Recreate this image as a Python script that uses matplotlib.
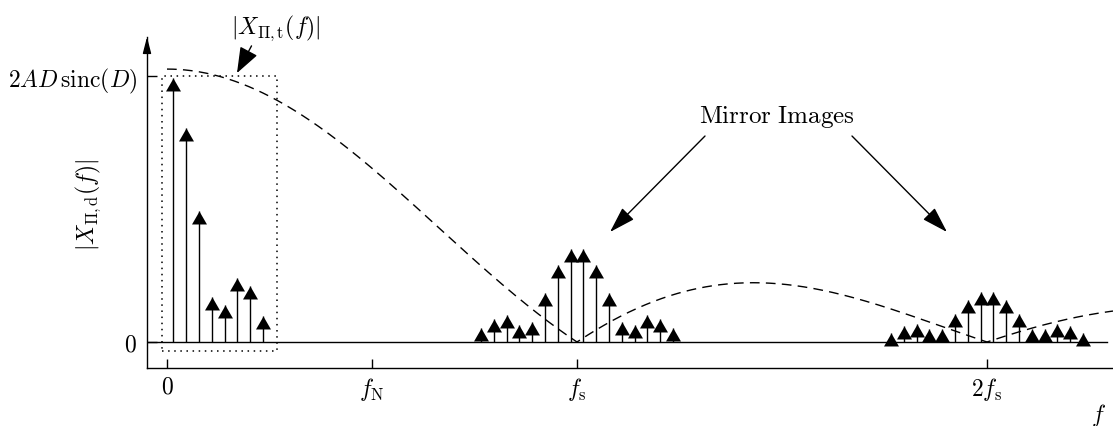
import numpy as np
import matplotlib
matplotlib.use("Agg")
import matplotlib.pyplot as plt
from matplotlib.patches import Rectangle

plt.rcParams["mathtext.fontset"] = "cm"
plt.rcParams["font.family"] = "serif"
plt.rcParams["font.serif"] = ["cmr10", "DejaVu Serif"]
plt.rcParams["axes.unicode_minus"] = False

# Frequencies are in units of fs; magnitudes in units of 2AD sinc(D)
bin_width = 1.0 / 32.0
bin_index = [0.5, 1.5, 2.5, 3.5, 4.5, 5.5, 6.5, 7.5]

baseband = [0.992, 0.803, 0.494, 0.170, 0.140, 0.242, 0.211, 0.097]
image_fs = [0.348, 0.288, 0.186, 0.075, 0.065, 0.100, 0.088, 0.053]
image_2fs = [0.189, 0.159, 0.107, 0.050, 0.048, 0.067, 0.060, 0.035]

envelope_peak = 1.026
envelope_null = 1.0  # first zero of the continuous-time spectrum (at fs)

xtick_pos = [0.0, 0.5, 1.0, 2.0]
xtick_lab = [r"$0$", r"$f_{\mathrm{N}}$", r"$f_{\mathrm{s}}$", r"$2f_{\mathrm{s}}$"]
ytick_pos = [0.0, 1.0]
ytick_lab = [r"$0$", r"$2AD\,\mathrm{sinc}(D)$"]

W, H = 1113, 427
fig = plt.figure(figsize=(W / 100, H / 100), dpi=100)
ax = fig.add_axes([147 / W, 58 / H, (W - 147) / W, (369 - 38) / H])
ax.set_xlim(-0.04878, 2.3073)
ax.set_ylim(-0.0977, 1.1466)

for s in ("top", "right"):
    ax.spines[s].set_visible(False)
for s in ("left", "bottom"):
    ax.spines[s].set_linewidth(1.0)

FS = 17
ax.set_xticks(xtick_pos)
ax.set_xticklabels(xtick_lab, fontsize=FS)
ax.set_yticks(ytick_pos)
ax.set_yticklabels(ytick_lab, fontsize=FS)
ax.tick_params(axis="x", direction="in", length=6.5, width=1.0, pad=5)
ax.tick_params(axis="y", direction="in", length=7, width=1.0, pad=7)

# arrow on top of the vertical axis
ax.annotate("", xy=(0, 1.0), xycoords="axes fraction",
            xytext=(0, 0.96), textcoords="axes fraction",
            arrowprops=dict(arrowstyle="-|>,head_length=0.7,head_width=0.18",
                            color="k", lw=1.0, shrinkA=0, shrinkB=0,
                            mutation_scale=14),
            annotation_clip=False)

# zero line
ax.plot([ax.get_xlim()[0], 2.2927], [0, 0], color="k", lw=1.0, zorder=2)

# continuous-time envelope |X_{Pi,t}(f)|
f = np.linspace(0, ax.get_xlim()[1], 800)
ax.plot(f, envelope_peak * np.abs(np.sinc(f / envelope_null)),
        color="k", lw=1.0, ls=(0, (7, 4.5)), zorder=2)

# arrow-headed stems
head = [(0, 0), (-0.577, -1), (0.577, -1), (0, 0)]


def stems(center, offsets, values):
    xs = np.asarray(center) + np.asarray(offsets) * bin_width
    ax.vlines(xs, 0, values, color="k", lw=1.0, zorder=3)
    ax.plot(xs, values, ls="none", marker=head, markersize=18.7,
            color="k", mec="k", mew=0.0, zorder=4, clip_on=False)


idx = np.asarray(bin_index)
stems(0.0, idx, baseband)
stems(1.0, np.concatenate([-idx[::-1], idx]), image_fs[::-1] + image_fs)
stems(2.0, np.concatenate([-idx[::-1], idx]), image_2fs[::-1] + image_2fs)

# dotted box around the baseband
ax.add_patch(Rectangle((-0.0122, -0.034), 0.2805, 1.034, fill=False,
                       ls=(0, (1, 3)), lw=1.1, ec="k", zorder=2))

ax.annotate(r"$|X_{\Pi,\mathrm{t}}(f)|$", xy=(0.1707, 1.011),
            xytext=(0.2659, 1.184), fontsize=FS, ha="center", va="center",
            annotation_clip=False,
            arrowprops=dict(arrowstyle="-|>,head_length=0.8,head_width=0.3",
                            color="k", lw=1.0, shrinkA=1, shrinkB=0,
                            relpos=(0.25, 0.0), mutation_scale=20))

ax.text(1.4878, 0.8496, r"$\mathrm{Mirror\ Images}$", fontsize=18,
        ha="center", va="center")
for start, tip in (((1.3122, 0.7744), (1.0805, 0.4135)),
                   ((1.6707, 0.7744), (1.9024, 0.4135))):
    ax.annotate("", xy=tip, xytext=start,
                arrowprops=dict(arrowstyle="-|>,head_length=0.9,head_width=0.28",
                                color="k", lw=1.0, shrinkA=0, shrinkB=0,
                                mutation_scale=18))

ax.text(-0.0611, 0.4955, r"$|X_{\Pi,\mathrm{d}}(f)|$", fontsize=FS,
        rotation=90, ha="center", va="center", transform=ax.transAxes)
ax.text(0.9845, -0.139, r"$f$", fontsize=FS, ha="center", va="center",
        transform=ax.transAxes)

fig.savefig("out.png", dpi=100)
